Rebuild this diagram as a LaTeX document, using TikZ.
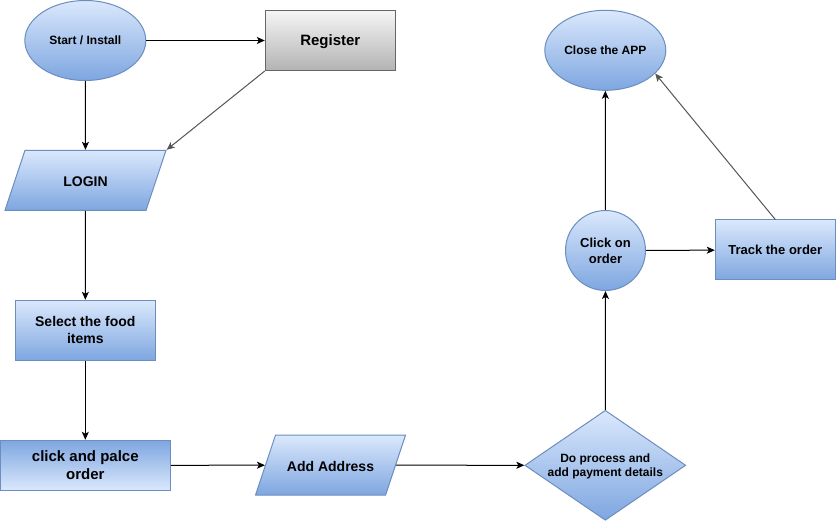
\documentclass[tikz,border=0pt]{standalone}
\usepackage{fontspec}
\setmainfont{Liberation Sans}
\usetikzlibrary{shapes.geometric, arrows.meta}
\definecolor{fcTop}{HTML}{DAE8FC}
\definecolor{fcBot}{HTML}{7EA6E0}
\definecolor{fcLine}{HTML}{6C8EBF}
\definecolor{grTop}{HTML}{F5F5F5}
\definecolor{grBot}{HTML}{B3B3B3}
\definecolor{grLine}{HTML}{666666}
\definecolor{arLine}{HTML}{555555}
\newcommand\fsz[2]{\bfseries\fontsize{#1pt}{#2pt}\selectfont}

\begin{document}
\begin{tikzpicture}[x=1pt, y=-1pt, line width=1pt,
  bluefill/.style={draw=fcLine, top color=fcTop, bottom color=fcBot, text depth=0pt},
  bluerev/.style={draw=fcLine, top color=fcBot, bottom color=fcTop},
  term/.style={ellipse, bluefill, minimum width=121pt, minimum height=80pt, inner sep=0pt},
  proc/.style={rectangle, bluefill, align=center, inner sep=0pt},
  io/.style={trapezium, trapezium left angle=71.6, trapezium right angle=108.4, trapezium stretches body=true, bluefill,
    text height=12.7pt, text depth=0.3pt, inner ysep=23.5pt, inner xsep=0pt},
  decide/.style={diamond, bluefill, aspect=1.45, minimum width=161pt, minimum height=110pt, inner sep=0pt, align=center},
  ar/.style={-{Stealth[length=8pt, width=7pt, inset=2pt]}, black},
  arg/.style={ar, arLine}]

\useasboundingbox (0,0) rectangle (836,521);

\node[term, font=\fsz{12}{14}] (start) at (85.3,40.5) {Start / Install};
\node[rectangle, draw=grLine, top color=grTop, bottom color=grBot, minimum width=130pt, minimum height=60pt, text depth=0pt, font=\fsz{15}{18}] (register) at (330.3,40.5) {Register};
\node[io, minimum width=161pt, font=\fsz{14}{17}] (login) at (85.5,180.3) {LOGIN};
\node[proc, minimum width=140pt, minimum height=60pt, font=\fsz{14}{17}] (select) at (85.3,330.3) {Select the food\\items};
\node[proc, bluerev, minimum width=170pt, minimum height=50pt, font=\fsz{15}{18}] (place) at (85.3,465.3) {click and palce\\order};
\node[io, minimum width=150pt, font=\fsz{14}{17}] (address) at (330.5,465.2) {Add Address};
\node[decide, font=\fsz{12}{14.5}] (payment) at (605.3,465.3) {Do process and\\add payment details};
\node[circle, bluefill, minimum size=80pt, inner sep=0pt, align=center, font=\fsz{13}{16}] (clickorder) at (605.5,250.5) {Click on\\order};
\node[term, font=\fsz{12}{14}] (close) at (605.3,50.3) {Close the APP};
\node[proc, minimum width=120pt, minimum height=60pt, font=\fsz{13}{16}] (track) at (775.3,250) {Track the order};

\draw[ar] (start) -- (register);
\draw[ar] (start) -- (login);
\draw[arg] (register.south west) -- (login.top right corner);
\draw[ar] (login) -- (select);
\draw[ar] (select) -- (place);
\draw[ar] (place) -- (address);
\draw[ar] (address) -- (payment);
\draw[ar] (payment) -- (clickorder);
\draw[ar] (clickorder) -- (close);
\draw[ar] (clickorder) -- (track);
\draw[arg] (track.north) -- (close.-25);
\end{tikzpicture}
\end{document}
